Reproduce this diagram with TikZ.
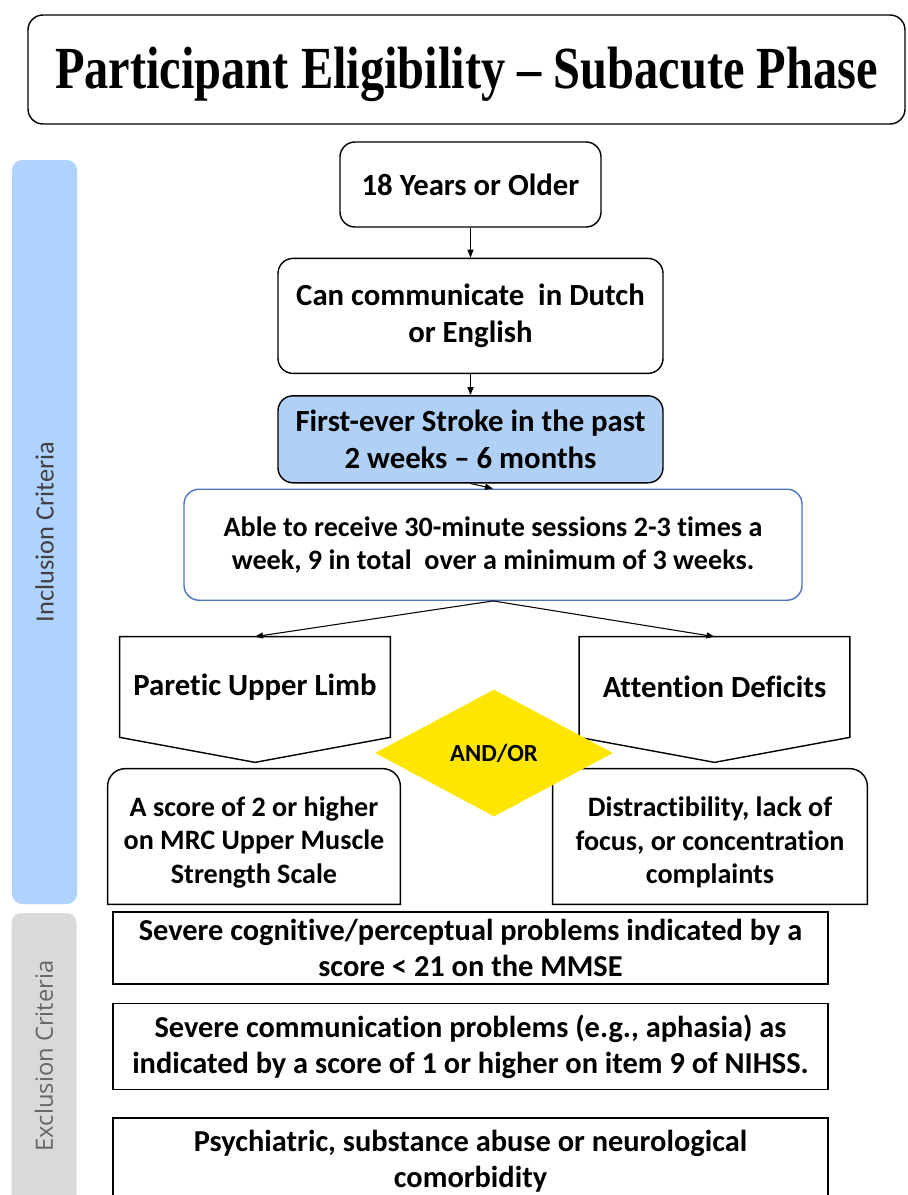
\documentclass[tikz,border=0pt]{standalone}
\usepackage{fontspec}
\setmainfont{Carlito}[Ligatures={TeX,NoCommon}]
\newfontfamily\titlefont{Liberation Serif}
\newfontfamily\sidefont{Open Sans}
\usetikzlibrary{positioning,arrows.meta,shapes.geometric,calc}

\definecolor{barblue}{HTML}{AFD2FF}
\definecolor{boxblue}{HTML}{B1D0F6}
\definecolor{edgeblue}{HTML}{4A74C0}
\definecolor{bargray}{HTML}{D9D9D9}
\definecolor{andor}{HTML}{FFE600}

\begin{document}
\begin{tikzpicture}[
  node distance=0.6cm,
  block/.style={rectangle, draw, line width=0.8pt, align=center, inner sep=1pt, font=\bfseries\fontsize{17.5}{21}\selectfont},
  incl/.style={block, rounded corners=0.3cm, minimum width=7.7cm},
  branch/.style={rectangle, align=center, minimum width=5.4cm, minimum height=2cm, font=\bfseries\fontsize{17.5}{21}\selectfont},
  detail/.style={rectangle, align=center, minimum height=2.7cm, font=\bfseries\fontsize{16}{19}\selectfont},
  excl/.style={block, minimum width=14.3cm, font=\bfseries\fontsize{17.3}{20.5}\selectfont},
  sidebar/.style={rounded corners=0.2cm, minimum width=1.3cm, inner sep=0pt},
  sidetext/.style={rotate=90, inner sep=0pt},
  arrow/.style={-{Triangle[length=1.6mm, width=1.2mm]}, line width=0.6pt},
]
\useasboundingbox (0,0) rectangle (18.16,-23.9);

% Title
\node[block, rounded corners=0.3cm, minimum width=17.54cm, minimum height=2.18cm,
  font=\titlefont\bfseries\fontsize{34}{38}\selectfont] (title) at (9.33,-1.39)
  {\raisebox{-3pt}[\height][\depth]{\scalebox{0.81}[1]{Participant Eligibility – Subacute Phase}}};

% Side bars
\node[sidebar, fill=barblue, minimum height=14.88cm] (incbar) at (0.89,-10.64) {};
\node[sidetext, text=black!75, font=\fontsize{15}{18}\selectfont] (inctext) at (incbar) {Inclusion Criteria};
\node[sidebar, fill=bargray, minimum height=5.84cm] (excbar) at (0.88,-21.18) {};
\node[sidetext, text=black!60, font=\sidefont\fontsize{13.5}{16}\selectfont] (exctext) at (0.88,-21.12) {Exclusion Criteria};

% Inclusion chain
\node[incl, minimum width=5.22cm, minimum height=1.7cm] (age) at (9.41,-3.69) {18 Years or Older};
\node[incl, minimum height=2.3cm, below=0.6cm of age] (lang) {Can communicate\ \ in Dutch\\or English};
\node[incl, fill=boxblue, minimum height=1.74cm, below=0.42cm of lang] (stroke) {First-ever Stroke in the past\\2 weeks – 6 months};
\node[block, draw=edgeblue, rounded corners=0.3cm, minimum width=12.36cm, minimum height=2.22cm,
  font=\bfseries\fontsize{16}{18.7}\selectfont, below=0.1cm of stroke, xshift=0.45cm] (sess)
  {Able to receive 30-minute sessions 2-3 times a\\week, 9 in total\ \ over a minimum of 3 weeks.};

% Branches
\node[branch] (pul) at (5.10,-13.74) {Paretic Upper Limb};
\node[branch] (att) at (14.29,-13.74) {Attention Deficits};
\foreach \b in {pul,att}
  \draw[line width=0.8pt] (\b.north west) -- (\b.north east) -- (\b.south east)
    -- ($(\b.south)+(0,-0.5)$) -- (\b.south west) -- cycle;

\node[detail, minimum width=5.84cm] (mrc) at (5.08,-16.73) {\rule{0pt}{18pt}A score of 2 or higher\\on MRC Upper Muscle\\Strength Scale};
\node[detail, minimum width=6.28cm] (dis) at (14.20,-16.73) {\rule{0pt}{18pt}Distractibility, lack of\\focus, or concentration\\complaints};
\foreach \b in {mrc,dis}
  \draw[line width=0.8pt] (\b.south west) -- ([yshift=-0.35cm]\b.north west)
    arc[start angle=180, end angle=90, radius=0.35cm] -- ([xshift=-0.35cm]\b.north east)
    arc[start angle=90, end angle=0, radius=0.35cm] -- (\b.south east) -- cycle;

% Exclusion boxes
\node[excl, minimum height=1.44cm] (cog) at (9.41,-18.96) {Severe cognitive/perceptual problems indicated by a\\score < 21 on the MMSE};
\node[excl, minimum height=1.72cm, below=0.36cm of cog] (com) {Severe communication problems (e.g., aphasia) as\\indicated by a score of 1 or higher on item 9 of NIHSS.};
\node[excl, minimum height=1.74cm, below=0.54cm of com] (psy) {Psychiatric, substance abuse or neurological\\comorbidity};

% Arrows
\draw[arrow] (age) -- (lang);
\draw[arrow] (lang) -- (stroke);
\draw[arrow] (stroke.south) -- (sess.north);
\draw[arrow] (sess.south) -- (pul.north);
\draw[arrow] (sess.south) -- (att.north);

% AND/OR on top
\node[diamond, fill=andor, minimum width=4.76cm, minimum height=2.54cm, inner sep=0pt,
  font=\bfseries\fontsize{14}{17}\selectfont] (andor) at (9.88,-15.06) {AND/OR};

\end{tikzpicture}
\end{document}
